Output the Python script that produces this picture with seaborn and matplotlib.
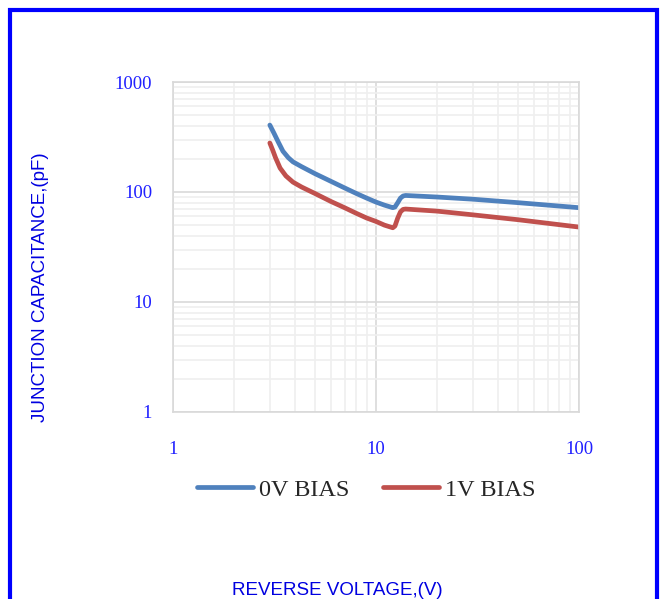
import numpy as np
import pandas as pd
import matplotlib
matplotlib.use("Agg")
import matplotlib.pyplot as plt
import seaborn as sns
from matplotlib.patches import Rectangle
from matplotlib.ticker import FixedLocator, LogLocator, NullFormatter

# data (reverse voltage V, capacitance pF)
v_0v = [3.0, 3.15, 3.3, 3.48, 3.7, 3.9, 4.3, 5.0, 6.0, 7.0, 8.0, 9.0, 10.0, 11.0, 12.1,
        12.4, 12.8, 13.2, 13.6, 14.0, 20.0, 30.0, 50.0, 100.0]
c_0v = [406, 340, 285, 235, 205, 188, 170, 147, 125, 109, 97, 88, 81, 76, 72,
        73, 80, 88, 92, 93, 90, 86, 80, 72]
v_1v = [3.0, 3.1, 3.2, 3.37, 3.6, 3.9, 4.3, 5.0, 6.0, 7.0, 8.0, 9.0, 10.0, 11.0, 12.1,
        12.4, 12.8, 13.2, 13.6, 14.0, 20.0, 30.0, 50.0, 100.0]
c_1v = [279, 240, 205, 165, 140, 123, 111, 97, 82, 72, 64, 58, 54, 50, 47.3,
        49, 58, 66, 69.5, 70, 67, 62, 56, 48]
series_names = ["0V BIAS", "1V BIAS"]
x_ticks = [1, 10, 100]
y_ticks = [1, 10, 100, 1000]

df = pd.concat([
    pd.DataFrame({"V": v_0v, "C": c_0v, "Series": series_names[0]}),
    pd.DataFrame({"V": v_1v, "C": c_1v, "Series": series_names[1]}),
])

sns.set_style("white")
plt.rcParams["font.family"] = ["Liberation Serif", "DejaVu Serif"]

fig = plt.figure(figsize=(6.62, 5.99), dpi=100)
ax = fig.add_axes([0.2613, 0.3122, 0.6133, 0.5509])

sns.lineplot(data=df, x="V", y="C", hue="Series", palette=["#4F81BD", "#C0504D"],
             linewidth=3.4, sort=False, ax=ax, solid_capstyle="round",
             solid_joinstyle="round", estimator=None)

ax.set_xscale("log")
ax.set_yscale("log")
ax.set_xlim(1, 100)
ax.set_ylim(1, 1000)
ax.xaxis.set_major_locator(FixedLocator(x_ticks))
ax.yaxis.set_major_locator(FixedLocator(y_ticks))
ax.set_xticklabels([str(t) for t in x_ticks])
ax.set_yticklabels([str(t) for t in y_ticks])
ax.xaxis.set_minor_locator(LogLocator(base=10, subs=np.arange(2, 10)))
ax.yaxis.set_minor_locator(LogLocator(base=10, subs=np.arange(2, 10)))
ax.xaxis.set_minor_formatter(NullFormatter())
ax.yaxis.set_minor_formatter(NullFormatter())
ax.grid(which="major", color="#d9d9d9", linewidth=1.2)
ax.grid(which="minor", color="#efefef", linewidth=1.2)
ax.tick_params(which="both", length=0)
ax.tick_params(axis="y", pad=15, labelsize=13.5, labelcolor="#2020ff")
ax.tick_params(axis="x", pad=21, labelsize=13.5, labelcolor="#2020ff")
for s in ax.spines.values():
    s.set_color("#d9d9d9")
    s.set_linewidth(1.2)
ax.set_xlabel("")
ax.set_ylabel("")

ax.legend(loc="center", bbox_to_anchor=(0.553, 0.182), bbox_transform=fig.transFigure,
          ncol=2, frameon=False, fontsize=17.5, handlelength=2.3, columnspacing=1.4,
          handletextpad=0.25)

fig.text(0.061, 0.521, "JUNCTION CAPACITANCE,(pF)", rotation=90, ha="center", va="center",
         color="#0000e0", fontsize=13.5, family="Liberation Sans")
fig.text(0.509, 0.015, "REVERSE VOLTAGE,(V)", ha="center", va="center",
         color="#0000e0", fontsize=13.5, family="Liberation Sans")

# blue frame around the figure
fig.patches.append(Rectangle((10 / 662, -0.05), 647 / 662, 1.05 - 10 / 599, transform=fig.transFigure,
                             fill=False, edgecolor="#0000ff", linewidth=3))

fig.savefig("out.png", dpi=100)
